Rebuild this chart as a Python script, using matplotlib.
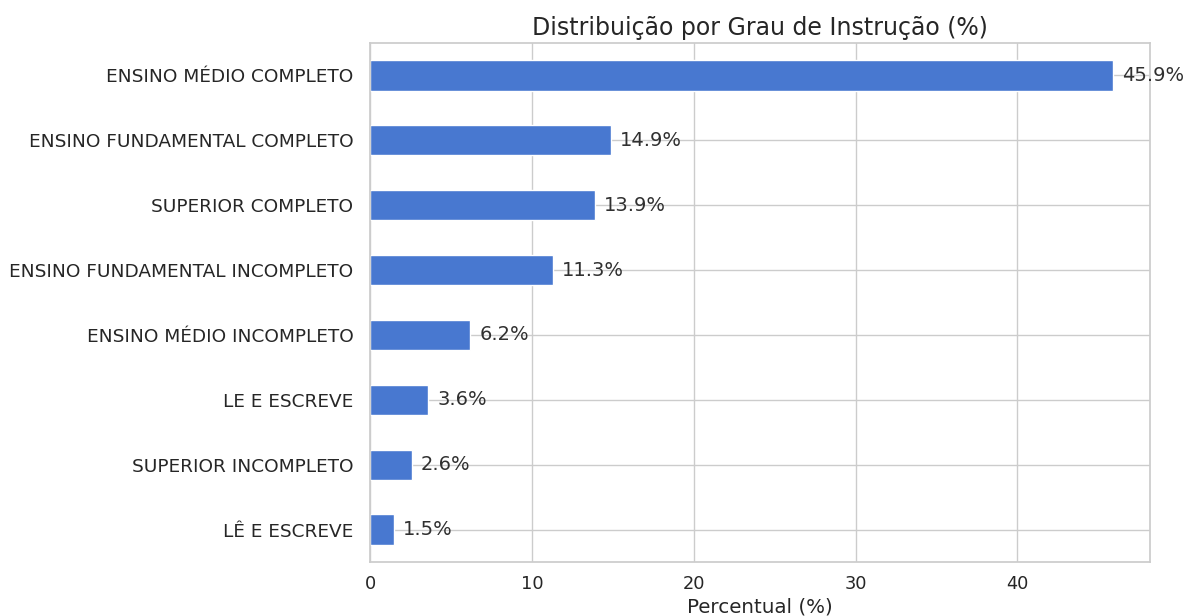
import matplotlib
matplotlib.use("Agg")
import matplotlib.pyplot as plt
import seaborn as sns

categorias = [
    "ENSINO MÉDIO COMPLETO",
    "ENSINO FUNDAMENTAL COMPLETO",
    "SUPERIOR COMPLETO",
    "ENSINO FUNDAMENTAL INCOMPLETO",
    "ENSINO MÉDIO INCOMPLETO",
    "LE E ESCREVE",
    "SUPERIOR INCOMPLETO",
    "LÊ E ESCREVE",
]
percentuais = [45.9, 14.9, 13.9, 11.3, 6.2, 3.6, 2.6, 1.5]
xticks = [0, 10, 20, 30, 40]

sns.set_theme(style="whitegrid", palette="muted")
plt.rcParams['font.family'] = ['DejaVu Sans']

fig = plt.figure(figsize=(11.85, 6.16), dpi=100)
ax = fig.add_axes([370/1185, 1-562/616, (1150-370)/1185, (562-43)/616])

ypos = list(range(len(categorias)))[::-1]
ax.barh(ypos, percentuais, height=0.465, color="#4878d0")
for y, v in zip(ypos, percentuais):
    ax.text(v + 0.55, y, f"{v}%", va="center", ha="left", fontsize=14, color="#303030")

ax.set_yticks(ypos)
ax.set_yticklabels(categorias, fontsize=13.3)
ax.set_xticks(xticks)
ax.tick_params(axis='x', labelsize=12.8)
ax.tick_params(axis='y', pad=6)
ax.set_ylim(-0.5, len(categorias) - 0.5)
ax.set_xlim(0, max(percentuais) * 1.05)
ax.set_xlabel("Percentual (%)", fontsize=14.3, labelpad=3)
ax.set_title("Distribuição por Grau de Instrução (%)", fontsize=17, pad=6)

fig.savefig("out.png", dpi=100)
